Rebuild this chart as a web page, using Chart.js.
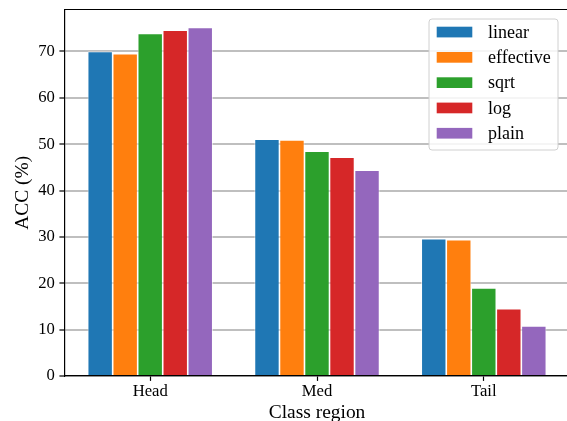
<!DOCTYPE html>
<html><head><meta charset="utf-8">
<script src="https://cdn.jsdelivr.net/npm/chart.js@4.4.1/dist/chart.umd.min.js"></script>
<style>
html,body{margin:0;padding:0;overflow:hidden;background:#fff;width:567px;height:421px}
#wrap{width:572px;height:421px}
canvas{display:block}
</style></head>
<body><div id="wrap"><canvas id="c" width="572" height="421"></canvas></div>
<script>
const categories = ['Head', 'Med', 'Tail'];
const seriesNames = ['linear', 'effective', 'sqrt', 'log', 'plain'];
const linear    = [70.0, 51.1, 29.6];
const effective = [69.5, 50.9, 29.4];
const sqrt      = [73.9, 48.5, 19.0];
const log       = [74.6, 47.2, 14.5];
const plain     = [75.2, 44.4, 10.8];
const yTicks = [0, 10, 20, 30, 40, 50, 60, 70];
const seriesValues = [linear, effective, sqrt, log, plain];
const colors = ['#1f77b4', '#ff7f0e', '#2ca02c', '#d62728', '#9467bd'];

const FONT = "'Liberation Serif', 'Times New Roman', serif";

const framePlugin = {
  id: 'frame',
  afterDraw(chart) {
    const {ctx, chartArea: a} = chart;
    ctx.save();
    ctx.strokeStyle = '#000';
    ctx.lineWidth = 1.2;
    ctx.beginPath();
    ctx.moveTo(a.left, a.top);
    ctx.lineTo(a.right, a.top);
    ctx.lineTo(a.right, a.bottom);
    ctx.stroke();
    // legend
    const bx = a.right - 140.7, by = a.top + 9.5, bw = 129, bh = 131;
    ctx.beginPath();
    if (ctx.roundRect) ctx.roundRect(bx, by, bw, bh, 3); else ctx.rect(bx, by, bw, bh);
    ctx.fillStyle = 'rgba(255,255,255,0.85)';
    ctx.fill();
    ctx.strokeStyle = '#d0d0d0';
    ctx.lineWidth = 1;
    ctx.stroke();
    ctx.font = '18px ' + FONT;
    ctx.textBaseline = 'middle';
    ctx.textAlign = 'left';
    chart.data.datasets.forEach((ds, i) => {
      const cy = by + 13 + i * 25.3;
      ctx.fillStyle = ds.backgroundColor;
      ctx.fillRect(bx + 7.7, cy - 5.3, 35.6, 10.7);
      ctx.fillStyle = '#000';
      ctx.fillText(ds.label, bx + 59, cy + 1);
    });
    ctx.restore();
  }
};

new Chart(document.getElementById('c'), {
  type: 'bar',
  data: {
    labels: categories,
    datasets: seriesNames.map((n, i) => ({
      label: n,
      data: seriesValues[i],
      backgroundColor: colors[i],
      borderColor: '#ffffff',
      borderWidth: 0.8,
      borderSkipped: 'start',
      barPercentage: 1,
      categoryPercentage: 0.75
    }))
  },
  options: {
    responsive: false,
    animation: false,
    devicePixelRatio: 1,
    layout: {padding: {top: 9.5, right: 2.3, bottom: 0, left: 0}},
    plugins: {legend: {display: false}, tooltip: {enabled: false}},
    scales: {
      x: {
        z: 2,
        offset: true,
        afterBuildTicks: s => { s._startValue = -0.515; s._valueRange = 3.03; },
        afterFit: s => { s.height = 45; s.paddingLeft = 0; s.paddingRight = 0; },
        grid: {display: true, drawOnChartArea: false, offset: false, drawTicks: true,
               tickLength: 4.9, tickColor: '#000', tickWidth: 1.2},
        border: {display: true, color: '#000', width: 1.2},
        ticks: {color: '#000', font: {family: FONT, size: 16.67}, padding: 1, maxRotation: 0},
        title: {display: true, text: 'Class region', color: '#000',
                font: {family: FONT, size: 19.44, lineHeight: 1}, padding: {top: 0, bottom: -1.5}}
      },
      y: {
        z: 1,
        min: 0,
        max: 79.06,
        afterBuildTicks: s => { s.ticks = yTicks.map(v => ({value: v})); },
        afterFit: s => { s.width = 64.3; s.paddingTop = 0; s.paddingBottom = 0; },
        grid: {display: true, color: 'rgba(128,128,128,0.5)', lineWidth: 2,
               drawTicks: true, tickLength: 4.9, tickColor: '#000', tickWidth: 1.2},
        border: {display: true, color: '#000', width: 1.2},
        ticks: {color: '#000', font: {family: FONT, size: 16.67}, padding: 4.5},
        title: {display: true, text: 'ACC (%)', color: '#000',
                font: {family: FONT, size: 19.44, lineHeight: 1}, padding: {top: 13.5, bottom: 0}}
      }
    }
  },
  plugins: [framePlugin]
});
</script>
</body></html>
